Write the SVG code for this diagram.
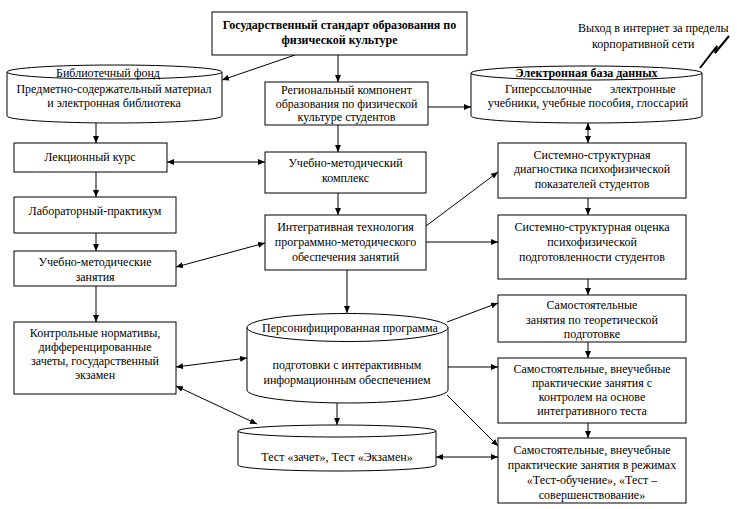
<svg xmlns="http://www.w3.org/2000/svg" width="737" height="509" viewBox="0 0 737 509">
<defs>
<marker id="ah" markerWidth="8" markerHeight="6" refX="7" refY="3" orient="auto-start-reverse" markerUnits="userSpaceOnUse"><path d="M0,0 L7,3 L0,6 z" fill="#000"/></marker>
</defs>
<rect width="737" height="509" fill="#fff"/>

<g id="connectors" stroke="#000" stroke-width="1" fill="none">
<line x1="295" y1="55" x2="222" y2="80" marker-end="url(#ah)"/>
<line x1="338" y1="55" x2="338" y2="82" marker-end="url(#ah)"/>
<line x1="428" y1="107" x2="471" y2="107" marker-end="url(#ah)"/>
<line x1="338" y1="125" x2="338" y2="152" marker-end="url(#ah)"/>
<line x1="96" y1="123" x2="96" y2="143" marker-end="url(#ah)"/>
<line x1="96" y1="172" x2="96" y2="197" marker-end="url(#ah)"/>
<line x1="96" y1="233" x2="96" y2="251" marker-end="url(#ah)"/>
<line x1="96" y1="286" x2="96" y2="322" marker-end="url(#ah)"/>
<line x1="167" y1="162" x2="265" y2="162" marker-start="url(#ah)" marker-end="url(#ah)"/>
<line x1="338" y1="193" x2="338" y2="215" marker-end="url(#ah)"/>
<line x1="176" y1="267" x2="265" y2="243" marker-start="url(#ah)" marker-end="url(#ah)"/>
<line x1="426" y1="226" x2="498" y2="172" marker-end="url(#ah)"/>
<line x1="426" y1="242" x2="498" y2="242" marker-end="url(#ah)"/>
<line x1="588" y1="123" x2="588" y2="143" marker-start="url(#ah)" marker-end="url(#ah)"/>
<line x1="588" y1="198" x2="588" y2="215" marker-end="url(#ah)"/>
<line x1="588" y1="279" x2="588" y2="295" marker-end="url(#ah)"/>
<line x1="588" y1="342" x2="588" y2="358" marker-end="url(#ah)"/>
<line x1="588" y1="423" x2="588" y2="438" marker-end="url(#ah)"/>
<line x1="347" y1="270" x2="347" y2="313" marker-end="url(#ah)"/>
<line x1="337" y1="403" x2="337" y2="425" marker-end="url(#ah)"/>
<line x1="176" y1="367" x2="247" y2="358" marker-start="url(#ah)" marker-end="url(#ah)"/>
<line x1="176" y1="386" x2="257" y2="424" marker-start="url(#ah)" marker-end="url(#ah)"/>
<line x1="447" y1="322" x2="498" y2="303" marker-end="url(#ah)"/>
<line x1="448" y1="367" x2="498" y2="367" marker-end="url(#ah)"/>
<line x1="447" y1="395" x2="498" y2="446" marker-end="url(#ah)"/>
<line x1="436" y1="457" x2="498" y2="457" marker-start="url(#ah)" marker-end="url(#ah)"/>
<polyline points="700,68 717,46 715,53 729,36" stroke-width="2"/>
</g>

<g fill="#fff" stroke="#000" stroke-width="1">
<g id="n-standard"><rect x="212" y="12" width="255" height="43"/></g>
<g id="n-library-shape">
<path d="M7,72 A107.5,7 0 0 1 222,72 L222,116 A107.5,7 0 0 1 7,116 Z"/>
<path fill="none" d="M7,72 A107.5,7 0 0 0 222,72"/>
</g>
<g id="n-regional-shape"><rect x="265" y="82" width="163" height="43"/></g>
<g id="n-edb-shape">
<path d="M471,73 A115.5,7 0 0 1 702,73 L702,116 A115.5,7 0 0 1 471,116 Z"/>
<path fill="none" d="M471,73 A115.5,7 0 0 0 702,73"/>
</g>
<g id="n-lecture-shape"><rect x="14" y="143" width="153" height="29"/></g>
<g id="n-lab-shape"><rect x="14" y="197" width="162" height="36"/></g>
<g id="n-umz-shape"><rect x="14" y="251" width="162" height="35"/></g>
<g id="n-control-shape"><rect x="14" y="322" width="162" height="72"/></g>
<g id="n-umk-shape"><rect x="265" y="152" width="161" height="41"/></g>
<g id="n-integr-shape"><rect x="265" y="215" width="161" height="55"/></g>
<g id="n-diag-shape"><rect x="498" y="143" width="188" height="55"/></g>
<g id="n-ocenka-shape"><rect x="498" y="215" width="188" height="64"/></g>
<g id="n-s1-shape"><rect x="498" y="295" width="188" height="47"/></g>
<g id="n-s2-shape"><rect x="498" y="358" width="188" height="65"/></g>
<g id="n-s3-shape"><rect x="498" y="438" width="188" height="65"/></g>
<g id="n-persona-shape">
<path d="M247,327.5 A100.5,14 0 0 1 448,327.5 L448,390 A100.5,13 0 0 1 247,390 Z"/>
<path fill="none" d="M247,327.5 A100.5,14 0 0 0 448,327.5"/>
</g>
<g id="n-test-shape">
<path d="M238,431 A99,6 0 0 1 436,431 L436,465 A99,6 0 0 1 238,465 Z"/>
<path fill="none" d="M238,431 A99,6 0 0 0 436,431"/>
</g>
</g>

<g id="labels" fill="#000" font-family="Liberation Serif" font-size="12" text-anchor="middle">
<text font-family="Liberation Serif" font-weight="bold" x="339.5" y="29">Государственный стандарт образования по</text>
<text font-family="Liberation Serif" font-weight="bold" x="339.5" y="44">физической культуре</text>

<text font-family="Liberation Serif" x="108" y="77">Библиотечный фонд</text>
<text font-family="Liberation Serif" x="114" y="93">Предметно-содержательный материал</text>
<text font-family="Liberation Serif" x="114" y="107">и  электронная библиотека</text>

<text font-family="Liberation Serif" x="346.5" y="94">Региональный компонент</text>
<text font-family="Liberation Serif" x="346.5" y="108">образования  по физической</text>
<text font-family="Liberation Serif" x="346.5" y="121">культуре студентов</text>

<text font-family="Liberation Serif" font-weight="bold" x="586.5" y="77">Электронная база данных</text>
<text font-family="Liberation Serif" text-anchor="start" x="505" y="93">Гиперссылочные</text>
<text font-family="Liberation Serif" text-anchor="start" x="610" y="93">электронные</text>
<text font-family="Liberation Serif" x="588" y="107">учебники,  учебные пособия, глоссарий</text>

<text font-family="Liberation Serif" text-anchor="start" x="578" y="32">Выход  в интернет за пределы</text>
<text font-family="Liberation Serif" text-anchor="start" x="592" y="48">корпоративной сети</text>

<text font-family="Liberation Serif" x="90" y="161">Лекционный курс</text>
<text font-family="Liberation Serif" x="95" y="215">Лабораторный-практикум</text>
<text font-family="Liberation Serif" x="95" y="266">Учебно-методические</text>
<text font-family="Liberation Serif" x="95" y="281">занятия</text>

<text font-family="Liberation Serif" x="95" y="337">Контрольные нормативы,</text>
<text font-family="Liberation Serif" x="95" y="351">дифференцированные</text>
<text font-family="Liberation Serif" x="95" y="365">зачеты,  государственный</text>
<text font-family="Liberation Serif" x="95" y="379">экзамен</text>

<text font-family="Liberation Serif" x="345.5" y="167">Учебно-методический</text>
<text font-family="Liberation Serif" x="345.5" y="182">комплекс</text>

<text font-family="Liberation Serif" x="345.5" y="231">Интегративная технология</text>
<text font-family="Liberation Serif" x="345.5" y="246">программно-методического</text>
<text font-family="Liberation Serif" x="345.5" y="261">обеспечения  занятий</text>

<text font-family="Liberation Serif" x="592" y="159">Системно-структурная</text>
<text font-family="Liberation Serif" x="592" y="173">диагностика  психофизической</text>
<text font-family="Liberation Serif" x="592" y="188">показателей студентов</text>

<text font-family="Liberation Serif" x="592" y="231">Системно-структурная оценка</text>
<text font-family="Liberation Serif" x="592" y="246">психофизической</text>
<text font-family="Liberation Serif" x="592" y="261">подготовленности студентов</text>

<text font-family="Liberation Serif" x="592" y="309">Самостоятельные</text>
<text font-family="Liberation Serif" x="592" y="324">занятия  по теоретической</text>
<text font-family="Liberation Serif" x="592" y="338">подготовке</text>

<text font-family="Liberation Serif" x="592" y="373">Самостоятельные, внеучебные</text>
<text font-family="Liberation Serif" x="592" y="387">практические занятия  с</text>
<text font-family="Liberation Serif" x="592" y="401">контролем на основе</text>
<text font-family="Liberation Serif" x="592" y="415">интегративного теста</text>

<text font-family="Liberation Serif" x="592" y="454">Самостоятельные, внеучебные</text>
<text font-family="Liberation Serif" x="592" y="469">практические занятия  в режимах</text>
<text font-family="Liberation Serif" x="592" y="484">«Тест-обучение», «Тест –</text>
<text font-family="Liberation Serif" x="592" y="499">совершенствование»</text>

<text font-family="Liberation Serif" x="350" y="332">Персонифицированная программа</text>
<text font-family="Liberation Serif" x="347" y="369">подготовки с интерактивным</text>
<text font-family="Liberation Serif" x="347" y="384">информационным обеспечением</text>

<text font-family="Liberation Serif" x="337" y="461">Тест «зачет», Тест «Экзамен»</text>
</g>
</svg>
